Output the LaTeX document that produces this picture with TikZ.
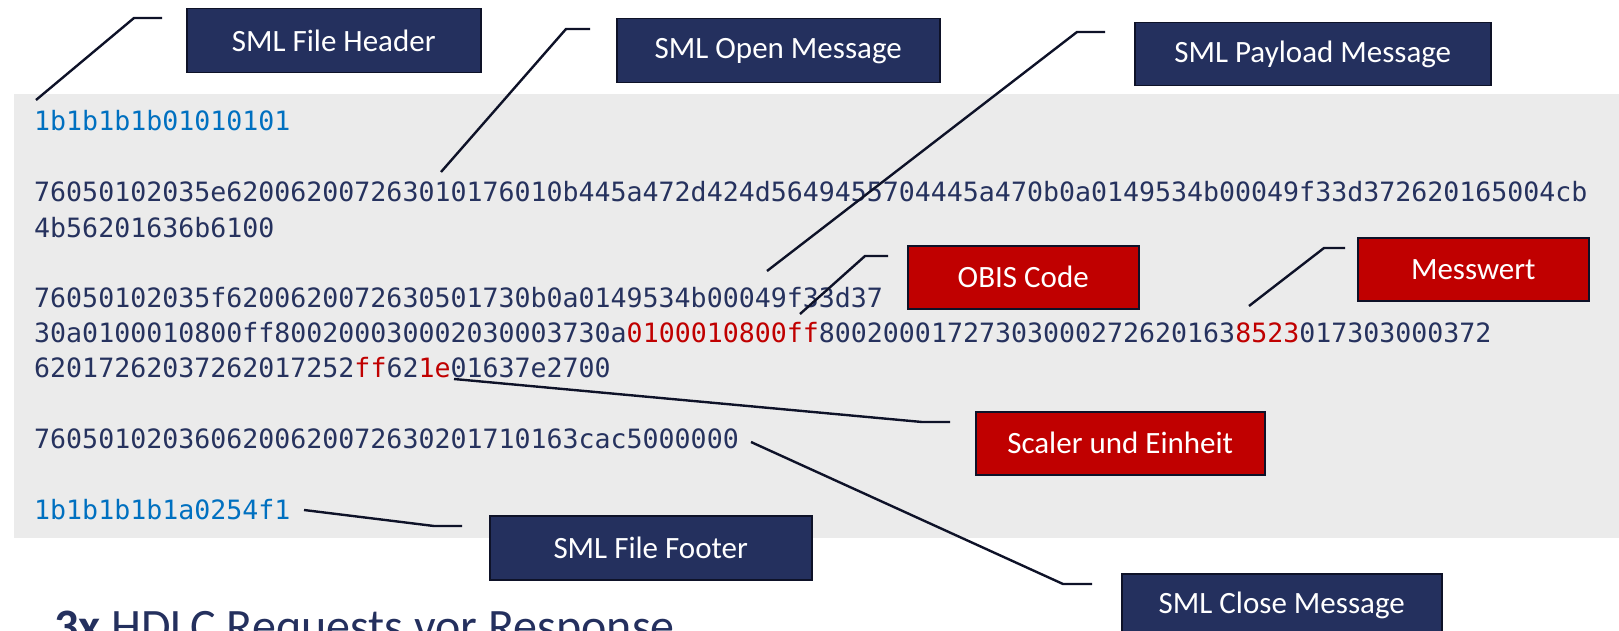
\documentclass[tikz,border=0pt]{standalone}
\usepackage{fontspec}
\setmainfont{Carlito}
\newfontfamily\hexfont{DejaVu Sans Mono}
\definecolor{navy}{RGB}{36,48,94}
\definecolor{hexnavy}{RGB}{38,50,94}
\definecolor{hexblue}{RGB}{0,112,192}
\definecolor{redfill}{RGB}{192,0,0}
\definecolor{bggray}{RGB}{235,235,235}
\definecolor{edge}{RGB}{14,18,40}
\begin{document}
\begin{tikzpicture}[x=1pt,y=-1pt,
  lbl/.style={draw=edge, line width=1.5pt, text=white, font=\fontsize{31}{35}\selectfont, inner sep=0pt, anchor=north west},
  navybox/.style={lbl, fill=navy},
  redbox/.style={lbl, fill=redfill},
  hex/.style={anchor=base west, inner sep=0pt, font=\hexfont\fontsize{26.6}{32}\selectfont, text=hexnavy},
  lead/.style={draw=edge, line width=2.4pt}]
\useasboundingbox (0,0) rectangle (1619,631);
\clip (0,0) rectangle (1619,631);
% background panel
\fill[bggray] (14,94) rectangle (1619,538);
% hex lines
\node[hex, text=hexblue] (l1) at (34,131) {1b1b1b1b01010101};
\node[hex] (l2) at (34,202) {76050102035e620062007263010176010b445a472d424d5649455704445a470b0a0149534b00049f33d372620165004cb};
\node[hex] (l3) at (34,237) {4b56201636b6100};
\node[hex] (l4) at (34,307) {76050102035f6200620072630501730b0a0149534b00049f33d37};
\node[hex] (l5) at (34,342) {30a0100010800ff800200030002030003730a\textcolor{redfill}{0100010800ff}80020001727303000272620163\textcolor{redfill}{8523}017303000372};
\node[hex] (l6) at (34,377) {62017262037262017252\textcolor{redfill}{ff}62\textcolor{redfill}{1e}01637e2700};
\node[hex] (l7) at (34,448) {7605010203606200620072630201710163cac5000000};
\node[hex, text=hexblue] (l8) at (34,519) {1b1b1b1b1a0254f1};
% label boxes
\node[navybox, minimum width=294, minimum height=64] (hdr) at (186,8) {SML File Header};
\node[navybox, minimum width=323, minimum height=64] (open) at (616,18) {SML Open Message};
\node[navybox, minimum width=356, minimum height=63] (pay) at (1134,22) {SML Payload Message};
\node[redbox, minimum width=231, minimum height=63] (obis) at (907,245) {OBIS Code};
\node[redbox, minimum width=231, minimum height=63] (mess) at (1357,237) {Messwert};
\node[redbox, minimum width=289, minimum height=63] (scal) at (975,411) {Scaler und Einheit};
\node[navybox, minimum width=322, minimum height=64] (foot) at (489,515) {SML File Footer};
\node[navybox, minimum width=320, minimum height=64] (close) at (1121,573) {SML Close Message};
% leader lines
\coordinate (h0) at (36,100);  \coordinate (h1) at (134,18);  \coordinate (h2) at (162,18);
\coordinate (o0) at (441,172); \coordinate (o1) at (566,29);  \coordinate (o2) at (590,29);
\coordinate (p0) at (767,271); \coordinate (p1) at (1077,32); \coordinate (p2) at (1105,32);
\coordinate (b0) at (800,314); \coordinate (b1) at (865,256); \coordinate (b2) at (888,256);
\coordinate (m0) at (1249,306); \coordinate (m1) at (1324,248); \coordinate (m2) at (1345,248);
\coordinate (s0) at (454,379); \coordinate (s1) at (922,422); \coordinate (s2) at (950,422);
\coordinate (c0) at (751,442); \coordinate (c1) at (1063,584); \coordinate (c2) at (1092,584);
\coordinate (f0) at (304,510); \coordinate (f1) at (434,526); \coordinate (f2) at (462,526);
\draw[lead] (h0) -- (h1) -- (h2);
\draw[lead] (o0) -- (o1) -- (o2);
\draw[lead] (p0) -- (p1) -- (p2);
\draw[lead] (b0) -- (b1) -- (b2);
\draw[lead] (m0) -- (m1) -- (m2);
\draw[lead] (s0) -- (s1) -- (s2);
\draw[lead] (c0) -- (c1) -- (c2);
\draw[lead] (f0) -- (f1) -- (f2);
% heading (cut off at the bottom edge, as in the reference)
\node[anchor=base west, inner sep=0pt, text=navy, font=\fontsize{48}{54}\selectfont] (head) at (54,642) {\textbf{3x} HDLC Requests vor Response};
\end{tikzpicture}
\end{document}
